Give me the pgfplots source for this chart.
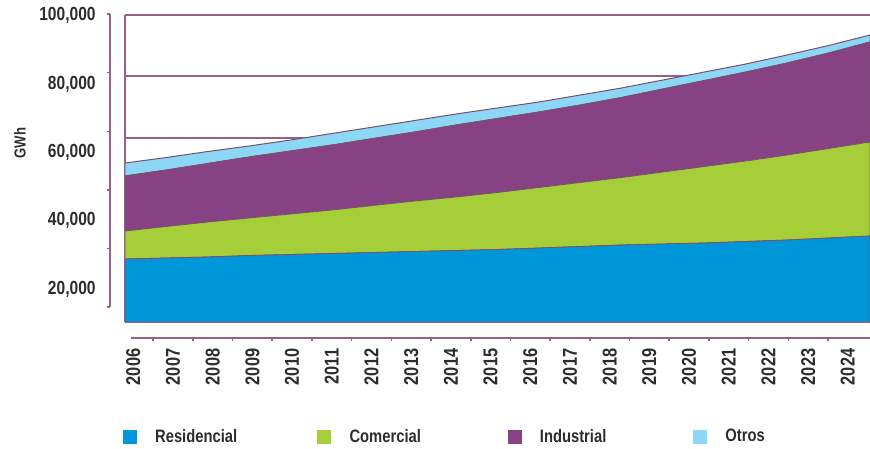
\documentclass[border=0pt]{standalone}
\usepackage{pgfplots}
\usepackage{pgfplotstable}
\pgfplotsset{compat=1.18, scaled ticks=false}
\usepackage{fontspec}
\newfontfamily\cond[FakeStretch=0.82]{Liberation Sans}

\definecolor{axcol}{RGB}{155,95,130}
\definecolor{txt}{RGB}{45,45,45}
\definecolor{resblue}{RGB}{0,150,218}
\definecolor{comgreen}{RGB}{166,206,57}
\definecolor{indpurple}{RGB}{134,66,130}
\definecolor{otroblue}{RGB}{140,215,245}
\definecolor{edge}{RGB}{120,80,110}

% GWh per sector, stacked
\pgfplotstableread{
year res com ind otros
2006 20520 9120 17920 4230
2007 20850 10260 18400 4070
2008 21170 11400 19060 3910
2009 21660 12220 19870 3580
2010 21990 13190 20520 3580
2011 22310 14170 21170 3750
2012 22640 15310 21820 3750
2013 22960 16450 22480 3750
2014 23290 17430 23450 3580
2015 23620 18570 24100 3420
2016 24100 19710 24590 3260
2017 24590 20850 25240 3260
2018 25080 21990 26060 3100
2019 25410 23450 27040 2930
2020 25730 24920 28010 2770
2021 26220 26220 28990 2610
2022 26710 27690 29970 2610
2023 27360 29150 31110 2440
2024 28010 30620 32570 2280
}\sectores

\begin{document}
\begin{tikzpicture}
\useasboundingbox (0,0) rectangle (435bp,224.5bp);

% data
\begin{axis}[
    scale only axis, anchor=south west, at={(62.5bp,63.5bp)},
    width=372.5bp, height=153.5bp,
    xmin=2006, xmax=2024, ymin=0, ymax=100000,
    stack plots=y, area style, axis on top=false,
    axis x line*=bottom, axis y line*=left,
    axis line style={draw=axcol, line width=1bp, -},
    xtick=\empty, ytick={0,20000,...,100000}, yticklabels={},
    major tick length=0pt,
    ymajorgrids, grid style={draw=axcol, line width=1bp},
    ylabel={GWh},
    ylabel style={at={(axis description cs:-0.141,0.583)}, anchor=center,
        font=\cond\bfseries\fontsize{8bp}{9bp}\selectfont, text=txt},
    legend columns=4,
    legend style={at={(axis description cs:-0.003,-0.375)}, anchor=west,
        draw=none, fill=none, inner sep=0pt, outer sep=0pt,
        font=\cond\bfseries\fontsize{9bp}{10bp}\selectfont, text=txt,
        nodes={inner sep=0pt}},
    legend image code/.code={\path[#1,draw=none] (0bp,-3.5bp) rectangle (7bp,3.5bp);
        \path (16bp,0bp);},
]
\addplot[fill=resblue, draw=edge, line width=0.4bp] table[x=year,y=res]{\sectores} \closedcycle;
\addlegendentry{\makebox[81bp][l]{Residencial}}
\addplot[fill=comgreen, draw=edge, line width=0.4bp] table[x=year,y=com]{\sectores} \closedcycle;
\addlegendentry{\makebox[79bp][l]{Comercial}}
\addplot[fill=indpurple, draw=edge, line width=0.4bp] table[x=year,y=ind]{\sectores} \closedcycle;
\addlegendentry{\makebox[76.5bp][l]{Industrial}}
\addplot[fill=otroblue, draw=edge, line width=0.5bp] table[x=year,y=otros]{\sectores} \closedcycle;
\addlegendentry{Otros}
\end{axis}

% separate y axis line with ticks
\begin{axis}[
    scale only axis, anchor=south west, at={(55bp,70.85bp)},
    width=1bp, height=146.65bp,
    xmin=0, xmax=1, ymin=0, ymax=100000,
    axis x line=none, axis y line*=left,
    axis line style={draw=axcol, line width=1bp, -},
    xtick=\empty, ytick={0,20000,...,100000}, yticklabels={},
    tick align=outside, major tick length=1.5bp,
    tick style={draw=axcol, line width=0.8bp},
]
\end{axis}

% y tick labels
\begin{axis}[
    scale only axis, anchor=south west, at={(48bp,80bp)},
    width=1bp, height=136.65bp,
    xmin=0, xmax=1, ymin=20000, ymax=100000,
    axis x line=none, axis y line*=left,
    axis line style={draw=none},
    xtick=\empty, ytick={20000,40000,...,100000},
    yticklabels={{20,000},{40,000},{60,000},{80,000},{100,000}},
    major tick length=0pt,
    yticklabel style={anchor=east, inner sep=0pt, text=txt,
        font=\cond\bfseries\fontsize{9.5bp}{10bp}\selectfont},
]
\end{axis}

% separate x axis with year labels
\begin{axis}[
    scale only axis, anchor=south west, at={(65.35bp,55.35bp)},
    width=369.65bp, height=1bp,
    xmin=2005.934, xmax=2024.557, ymin=0, ymax=1,
    axis y line=none, axis x line*=bottom,
    axis line style={draw=axcol, line width=1bp, -},
    ytick=\empty, xtick={2006,...,2024},
    xticklabels={2006,2007,2008,2009,2010,2011,2012,2013,2014,2015,2016,2017,2018,2019,2020,2021,2022,2023,2024},
    minor xtick={2006.5,2007.5,...,2023.5},
    tick align=outside, major tick length=0pt, minor tick length=1.5bp,
    tick style={draw=axcol, line width=0.8bp},
    xticklabel style={yshift=-5bp, rotate=90, anchor=east, inner sep=0pt, text=txt,
        font=\cond\bfseries\fontsize{10bp}{11bp}\selectfont},
]
\end{axis}
\end{tikzpicture}
\end{document}
